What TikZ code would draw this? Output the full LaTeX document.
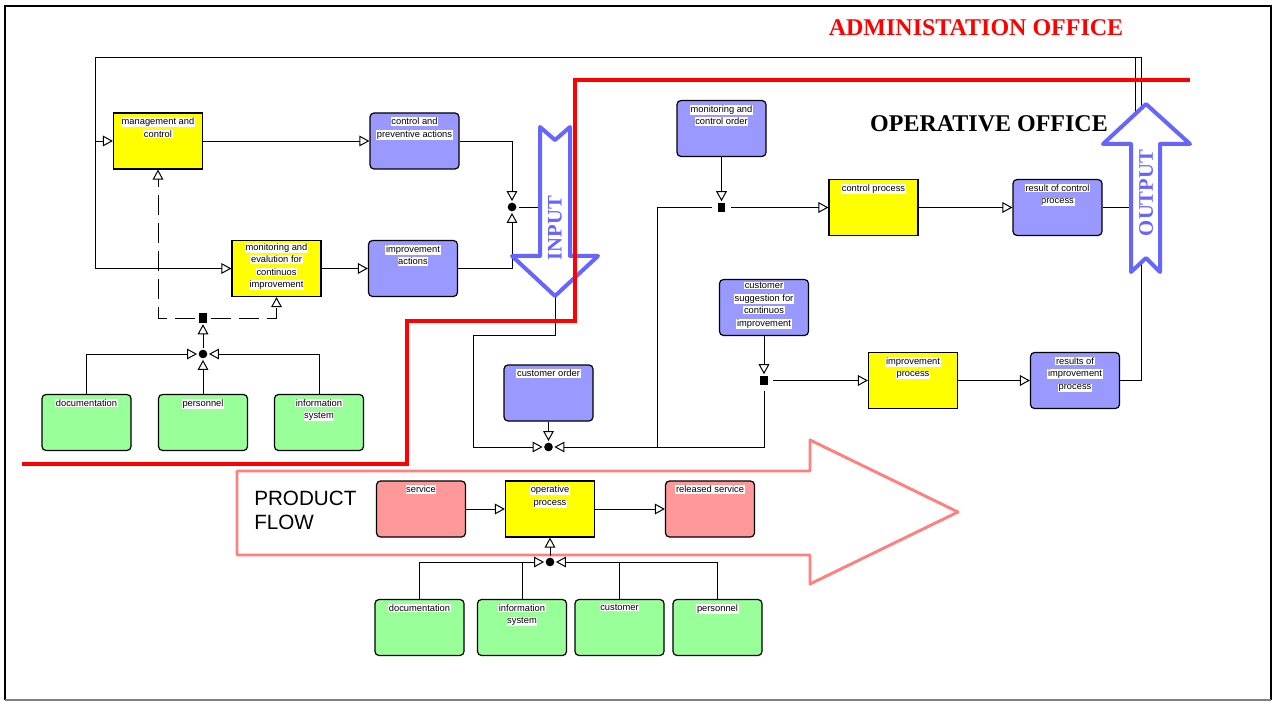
\documentclass[tikz,border=0pt]{standalone}
\usepackage{fontspec}
\setmainfont{Liberation Serif}
\newfontfamily\arialf{Liberation Sans}
\usetikzlibrary{arrows.meta,positioning}
\definecolor{yfill}{HTML}{FFFF00}
\definecolor{bfill}{HTML}{9999FF}
\definecolor{gfill}{HTML}{99FF99}
\definecolor{pfill}{HTML}{FF9999}
\definecolor{arrblue}{HTML}{6666FF}
\definecolor{pinkline}{HTML}{FF8080}
\definecolor{redline}{HTML}{FF0000}
\setlength{\fboxsep}{0.5pt}
\newcommand\hl[1]{\colorbox{white}{#1}}
\tikzset{
  boxbase/.style={draw=black, line width=0.9pt, minimum width=66.75pt, minimum height=42pt, inner sep=0pt},
  yb/.style={boxbase, fill=yfill},
  bb/.style={boxbase, fill=bfill, rounded corners=3pt},
  gb/.style={boxbase, fill=gfill, rounded corners=3pt},
  pb/.style={boxbase, fill=pfill, rounded corners=3pt},
  lbl/.style={inner sep=0pt, align=center, font=\arialf\fontsize{7}{9.4}\selectfont},
  conn/.style={line width=0.7pt, draw=black},
  arr/.style={conn, -{Triangle[open, length=7.5pt, width=8pt, line width=0.75pt]}},
  dsh/.style={dash pattern=on 15pt off 6pt},
  jc/.style={circle, fill=black, inner sep=0pt, minimum size=6.5pt},
  js/.style={rectangle, fill=black, inner sep=0pt, minimum width=5.5pt, minimum height=7pt},
  bigarrow/.style={draw=arrblue, line width=3pt, line join=round, fill=white},
  bigtxt/.style={text=arrblue, font=\bfseries\fontsize{15.5}{17}\selectfont, inner sep=0pt},
}
\begin{document}
\begin{tikzpicture}[x=0.75pt,y=-0.75pt]
\useasboundingbox (0,0) rectangle (1274,702);
% frame
\draw[line width=1.5pt] (5,700) -- (5,6) -- (1271,6) -- (1271,700);
\draw[line width=1.5pt, gray] (5,700) -- (1271,700);

% product flow arrow
\draw[pinkline, line width=2.2pt, line join=round] (237,471) -- (810,471) -- (810,440) -- (958,512) -- (810,584) -- (810,555) -- (237,555) -- cycle;
\node[anchor=west, align=left, inner sep=0pt, font=\arialf\fontsize{15.5}{18}\selectfont] (pf) at (254,510) {PRODUCT\\FLOW};

% titles
\node[text=redline, font=\bfseries\fontsize{18}{20}\selectfont, inner sep=0pt] (adm) at (976,28) {ADMINISTATION OFFICE};
\node[font=\bfseries\fontsize{18}{20}\selectfont, inner sep=0pt] (opo) at (989,124) {OPERATIVE OFFICE};

% ---------- administration part ----------
\node[yb] (mc) at (158,141) {};
\node[lbl, below=3.5pt of mc.north] (mcT) {\hl{management and}\\\hl{control}};
\node[bb] (cpa) at (414.5,141) {};
\node[lbl, below=3.5pt of cpa.north] (cpaT) {\hl{control and}\\\hl{preventive actions}};
\node[yb] (mev) at (276.5,268.5) {};
\node[lbl, below=2pt of mev.north] (mevT) {\hl{monitoring and}\\\hl{evalution for}\\\hl{continuos}\\\hl{improvement}};
\node[bb] (ia) at (413,268.5) {};
\node[lbl, below=3.5pt of ia.north] (iaT) {\hl{improvement}\\\hl{actions}};

\node[gb] (doc1) at (86.5,422.5) {};
\node[lbl, below=3.5pt of doc1.north] (doc1T) {\hl{documentation}};
\node[gb] (per1) at (203,422.5) {};
\node[lbl, below=3.5pt of per1.north] (per1T) {\hl{personnel}};
\node[gb] (is1) at (319,422.5) {};
\node[lbl, below=3.5pt of is1.north] (is1T) {\hl{information}\\\hl{system}};

\node[jc] (j1) at (512,207) {};
\node[jc] (j2) at (203,354) {};
\node[js] (sq1) at (203,318) {};

\coordinate (fbA) at (1135,57);
\coordinate (fbC) at (1141,57);
\coordinate (fbB) at (95,57);
\coordinate (fbD) at (95,141);

\draw[arr] (mc) -- (cpa);
\draw[arr] (mev) -- (ia);
\draw[arr, shorten >=1pt] (cpa.east) -| (j1);
\draw[arr, shorten >=1pt] (ia.east) -| (j1);
\draw[arr, shorten >=1pt] (doc1) |- (j2);
\draw[arr, shorten >=1pt] (per1) -- (j2);
\draw[arr, shorten >=1pt] (is1) |- (j2);
\draw[arr, shorten >=1pt, shorten <=1pt] (j2) -- (sq1);
\draw[arr, dsh, shorten <=3pt] (sq1) -| (mc);
\draw[arr, dsh, shorten <=3pt] (sq1) -| (mev);
\draw[arr] (fbD) -- (mc.west);

% ---------- operative part ----------
\node[bb] (mco) at (721.5,128.5) {};
\node[lbl, below=3.5pt of mco.north] (mcoT) {\hl{monitoring and}\\\hl{control order}};
\node[yb] (cp) at (873.5,207.5) {};
\node[lbl, below=3.5pt of cp.north] (cpT) {\hl{control process}};
\node[bb] (rcp) at (1057.5,207.5) {};
\node[lbl, below=3.5pt of rcp.north] (rcpT) {\hl{result of control}\\\hl{process}};
\node[bb] (csu) at (764,307.5) {};
\node[lbl, below=2pt of csu.north] (csuT) {\hl{customer}\\\hl{suggestion for}\\\hl{continuos}\\\hl{improvement}};
\node[yb] (ip) at (913,380.5) {};
\node[lbl, below=3.5pt of ip.north] (ipT) {\hl{improvement}\\\hl{process}};
\node[bb] (rip) at (1075,380.5) {};
\node[lbl, below=3.5pt of rip.north] (ripT) {\hl{results of}\\\hl{improvement}\\\hl{process}};
\node[bb] (co) at (548.5,393) {};
\node[lbl, below=3.5pt of co.north] (coT) {\hl{customer order}};

\node[js] (sq2) at (721.5,207.5) {};
\node[js] (sq3) at (764,380.5) {};
\node[jc] (j3) at (548.5,447) {};
\coordinate (b1) at (657,447);
\coordinate (inTip) at (555,296);
\coordinate (inL) at (540,207);
\coordinate (c1) at (555,335);
\coordinate (c2) at (473,447);

\draw[conn, shorten <=2pt] (j1) -- (inL);
\draw[arr, shorten >=1pt] (mco) -- (sq2);
\draw[arr, shorten <=4pt] (sq2) -- (cp);
\draw[conn, shorten <=4pt] (sq2) -| (b1);
\draw[arr] (cp) -- (rcp);
\draw[arr, shorten >=1pt] (csu) -- (sq3);
\draw[arr, shorten <=4pt] (sq3) -- (ip);
\draw[arr, shorten <=4pt, shorten >=1pt] (sq3) |- (j3);
\draw[arr] (ip) -- (rip);
\draw[arr, shorten >=1pt] (co) -- (j3);
\draw[arr, shorten >=1pt] (inTip) -- (c1) -| (c2) -- (j3);

% feedback lines
\draw[conn] (rcp.east) -| (fbA);
\draw[arr] (rip.east) -| (fbC) -- (fbB) |- (mev.west);

% ---------- product flow part ----------
\node[pb] (svc) at (421,509) {};
\node[lbl, below=3.5pt of svc.north] (svcT) {\hl{service}};
\node[yb] (op) at (550,509) {};
\node[lbl, below=3.5pt of op.north] (opT) {\hl{operative}\\\hl{process}};
\node[pb] (rs) at (710,509) {};
\node[lbl, below=3.5pt of rs.north] (rsT) {\hl{released service}};
\node[gb] (doc2) at (419.5,627.5) {};
\node[lbl, below=3.5pt of doc2.north] (doc2T) {\hl{documentation}};
\node[gb] (is2) at (522,627.5) {};
\node[lbl, below=3.5pt of is2.north] (is2T) {\hl{information}\\\hl{system}};
\node[gb] (cust) at (619.5,627.5) {};
\node[lbl, below=3.5pt of cust.north] (custT) {\hl{customer}};
\node[gb] (per2) at (717.5,627.5) {};
\node[lbl, below=3.5pt of per2.north] (per2T) {\hl{personnel}};
\node[jc] (j4) at (550,562) {};

\draw[arr] (svc) -- (op);
\draw[arr] (op) -- (rs);
\draw[arr, shorten >=1pt] (doc2) |- (j4);
\draw[conn] (is2) -- (is2 |- j4);
\draw[conn] (cust) -- (cust |- j4);
\draw[arr, shorten >=1pt] (per2) |- (j4);
\draw[arr, shorten <=1pt] (j4) -- (op);

% INPUT arrow
\draw[bigarrow] (540,127) -- (555,140) -- (570,127) -- (570,256) -- (598,256) -- (inTip) -- (512,256) -- (540,256) -- cycle;
\node[bigtxt, rotate=90] (inT) at (555,228) {INPUT};

% red boundary line
\draw[redline, line width=2.8pt] (22,464) -- (407,464) -- (407,321) -- (575,321) -- (575,80) -- (1190,80);

% OUTPUT arrow
\draw[bigarrow] (1146,104) -- (1190,144) -- (1160,144) -- (1160,272) -- (1146,258) -- (1131,272) -- (1131,144) -- (1103,144) -- cycle;
\node[bigtxt, rotate=90] (outT) at (1146,193) {OUTPUT};
\end{tikzpicture}
\end{document}
